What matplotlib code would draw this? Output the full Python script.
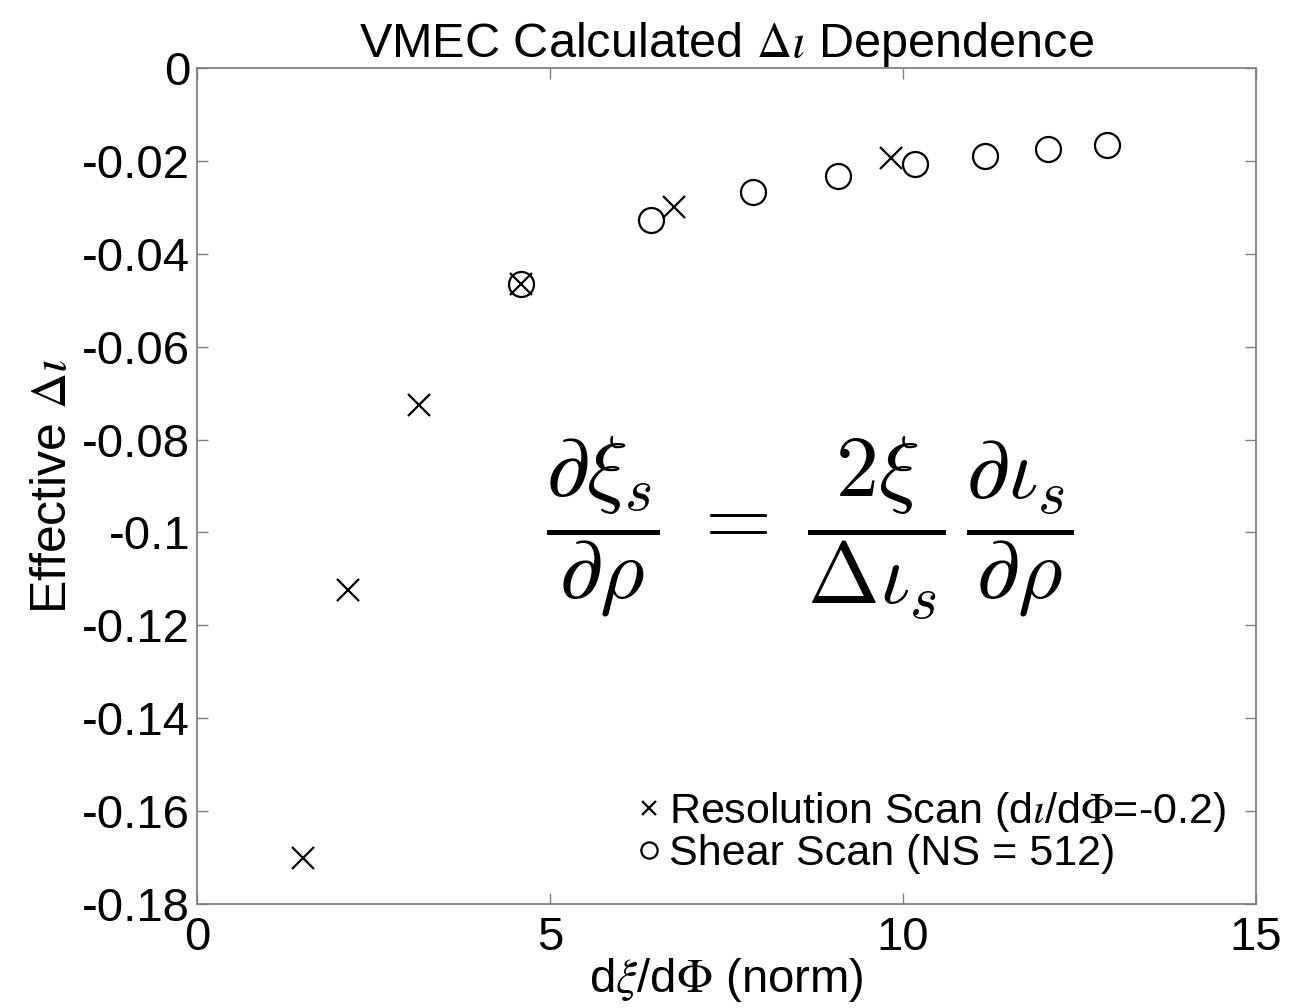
import matplotlib
matplotlib.use("Agg")
import matplotlib.pyplot as plt

# resolution scan (crosses) and shear scan (circles)
res_x = [1.50, 2.14, 3.14, 4.59, 6.76, 9.83]
res_y = [-0.170, -0.1124, -0.0726, -0.0465, -0.0299, -0.0194]
shear_x = [4.59, 6.43, 7.88, 9.08, 10.17, 11.16, 12.05, 12.89]
shear_y = [-0.0465, -0.0327, -0.0267, -0.0233, -0.0207, -0.0189, -0.0174, -0.0166]

x_ticks = [0, 5, 10, 15]
y_ticks = [0, -0.02, -0.04, -0.06, -0.08, -0.1, -0.12, -0.14, -0.16, -0.18]
y_ticklabels = ["0", "-0.02", "-0.04", "-0.06", "-0.08", "-0.1", "-0.12",
                "-0.14", "-0.16", "-0.18"]

plt.rcParams["font.family"] = ["Liberation Sans", "DejaVu Sans"]
plt.rcParams["mathtext.fontset"] = "stix"

fig = plt.figure(figsize=(13.1, 10.08), dpi=100)
ax = fig.add_axes([0.1504, 0.1032, 0.8084, 0.8293])

ax.plot(res_x, res_y, linestyle="none", marker="x", color="black",
        markersize=16, markeredgewidth=1.6,
        label=r"Resolution Scan (d$\iota$/d$\Phi$=-0.2)")
ax.plot(shear_x, shear_y, linestyle="none", marker="o", markerfacecolor="none",
        markeredgecolor="black", markersize=18, markeredgewidth=1.6,
        label=r"Shear Scan (NS = 512)")

ax.set_xlim(0, 15)
ax.set_ylim(-0.18, 0)
ax.set_xticks(x_ticks)
ax.set_yticks(y_ticks)
ax.set_yticklabels(y_ticklabels)

for side in ax.spines.values():
    side.set_color("#808080")
    side.set_linewidth(1.3)
ax.tick_params(direction="in", length=8, width=1, color="#808080",
               labelsize=34, top=True, right=True, pad=5)
ax.tick_params(axis="x", pad=9)

ax.set_title(r"VMEC Calculated $\Delta\iota$ Dependence", fontsize=35, pad=8)
ax.set_xlabel(r"d$\xi$/d$\Phi$ (norm)", fontsize=34, labelpad=-3)
ax.set_ylabel(r"Effective $\Delta\iota$", fontsize=36, labelpad=4)

ax.text(8.68, -0.099,
        r"$\dfrac{\partial \xi_s}{\partial \rho} \;=\; \dfrac{2\xi}{\Delta \iota_s}\,\dfrac{\partial \iota_s}{\partial \rho}$",
        fontsize=62, ha="center", va="center", math_fontfamily="cm")

leg = ax.legend(loc="lower right", frameon=False, fontsize=31,
                handlelength=0.45, handletextpad=0.25, labelspacing=0.0,
                borderaxespad=0.3, markerscale=0.65)

fig.savefig("out.png", dpi=100)
